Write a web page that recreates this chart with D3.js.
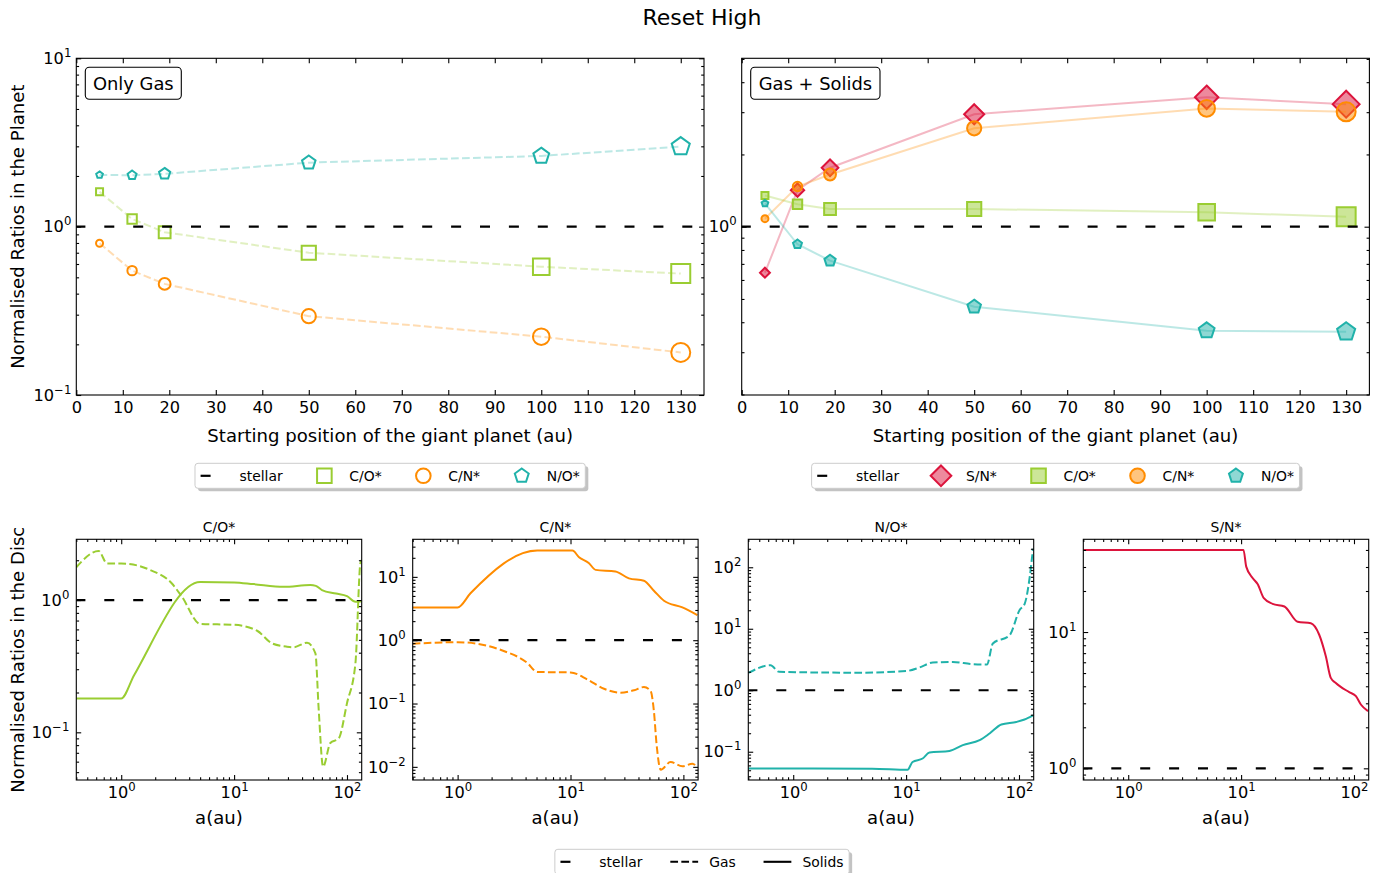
<!DOCTYPE html>
<html>
<head>
<meta charset="utf-8">
<script src="https://cdn.jsdelivr.net/npm/d3@7"></script>
<style>
  body { margin: 0; background: #fff; }
</style>
</head>
<body>
<script>
// ---- data -------------------------------------------------------------
var startPos = [5, 12, 19, 50, 100, 130];
var xTickVals = [0, 10, 20, 30, 40, 50, 60, 70, 80, 90, 100, 110, 120, 130];

// planet ratios, gas only
var gasCO = [1.61, 1.11, 0.926, 0.70, 0.578, 0.526];
var gasCN = [0.797, 0.548, 0.457, 0.294, 0.222, 0.179];
var gasNO = [2.03, 2.02, 2.06, 2.40, 2.63, 2.99];

// planet ratios, gas + solids
var allSN = [0.643, 1.42, 1.76, 2.94, 3.46, 3.24];
var allCO = [1.35, 1.24, 1.185, 1.185, 1.148, 1.10];
var allCN = [1.08, 1.47, 1.65, 2.57, 3.11, 3.01];
var allNO = [1.25, 0.845, 0.722, 0.464, 0.369, 0.365];

// disc profiles [a(au), ratio]
var discCOgas = [[0.4, 1.77], [0.63, 2.35], [0.75, 1.89], [1.0, 1.89], [1.8, 1.69], [2.8, 1.34], [3.45, 1.06],
  [5.0, 0.66], [10, 0.65], [16, 0.586], [21.7, 0.47], [29.4, 0.444], [33.7, 0.44], [44.3, 0.476], [52.5, 0.395],
  [56.2, 0.147], [61.4, 0.055], [71.2, 0.083], [84.5, 0.09], [100, 0.166], [118.7, 0.33], [131.5, 1.9], [135, 2.0]];
var discCOsolid = [[0.4, 0.18], [1.0, 0.18], [1.3, 0.27], [5.0, 1.37], [10, 1.36], [14.9, 1.32], [27.5, 1.26],
  [47.4, 1.30], [53, 1.28], [60, 1.19], [80, 1.12], [100, 1.07], [118.7, 0.97], [135, 0.98]];
var discCNgas = [[0.4, 0.88], [1.0, 0.93], [2.56, 0.676], [4.13, 0.44], [5.07, 0.315], [10, 0.31], [14.1, 0.24],
  [19.8, 0.171], [27.8, 0.148], [36.5, 0.162], [44.7, 0.182], [51.2, 0.158], [54.8, 0.076], [57.9, 0.0225],
  [63, 0.009], [76.9, 0.0119], [98, 0.0102], [120, 0.0112], [133, 0.0098]];
var discCNsolid = [[0.4, 3.29], [1.0, 3.29], [1.3, 5.5], [5.07, 26.0], [10.4, 26.0], [11.9, 20.4], [14.5, 16.6],
  [16.7, 12.9], [25, 12.2], [32.9, 9.46], [44.7, 8.7], [54.8, 6.04], [67.3, 4.2], [98, 3.29], [133, 2.49]];
var discNOgas = [[0.4, 1.91], [0.63, 2.55], [0.75, 1.99], [3.84, 1.93], [10, 2.05], [13.1, 2.34], [17.2, 2.82],
  [25.9, 2.89], [39, 2.65], [52, 2.62], [58.7, 5.74], [82.6, 7.83], [101, 20], [112.5, 25.7], [124.5, 69.5], [133, 200]];
var discNOsolid = [[0.4, 0.0533], [5, 0.053], [10.3, 0.051], [11.4, 0.068], [14.0, 0.0776], [16.1, 0.097],
  [24.2, 0.103], [31.8, 0.128], [44.8, 0.154], [54.9, 0.198], [69.8, 0.277], [94.8, 0.305], [112, 0.334], [133, 0.39]];
var discSNsolid = [[0.4, 40], [10.5, 40], [11.1, 30.2], [12.7, 24.8], [14, 22.5], [15.9, 17.7], [19, 16.1],
  [24.2, 15.4], [31.7, 11.9], [41.5, 11.6], [49.2, 9.55], [56.3, 6.63], [62.3, 4.61], [69, 4.23], [90.7, 3.62],
  [104, 3.38], [115, 2.94], [133, 2.63]];

// ---- style ------------------------------------------------------------
var FONT = "'DejaVu Sans', sans-serif";
var colCO = "#9acd32", colCN = "#ff8c00", colNO = "#20b2aa", colSN = "#dc143c";
var stellarDash = "10,18.9";
var tickFs = 16.2, labelFs = 18.1, legendFs = 13.9;

var svg = d3.select("body").append("svg")
    .attr("width", 1379).attr("height", 873)
    .attr("font-family", FONT);
svg.append("rect").attr("width", 1379).attr("height", 873).attr("fill", "#fff");

// marker shapes, size = radius
var symCircle = { draw: function (c, r) { c.moveTo(r, 0); c.arc(0, 0, r, 0, 2 * Math.PI); } };
var symSquare = { draw: function (c, r) { c.rect(-r, -r, 2 * r, 2 * r); } };
var symDiamond = { draw: function (c, r) {
    var q = r * Math.SQRT2;
    c.moveTo(0, -q); c.lineTo(q, 0); c.lineTo(0, q); c.lineTo(-q, 0); c.closePath();
} };
var symPentagon = { draw: function (c, r) {
    for (var k = 0; k < 5; k++) {
        var a = -Math.PI / 2 + k * 2 * Math.PI / 5;
        if (k) c.lineTo(r * Math.cos(a), r * Math.sin(a)); else c.moveTo(r * Math.cos(a), r * Math.sin(a));
    }
    c.closePath();
} };

function majorLog(dom) {
    var out = [];
    for (var e = Math.ceil(Math.log10(dom[0]) - 1e-9); Math.pow(10, e) <= dom[1]; e++) out.push(Math.pow(10, e));
    return out;
}
function minorLog(dom) {
    var out = [];
    for (var e = Math.floor(Math.log10(dom[0])); e <= Math.ceil(Math.log10(dom[1])); e++)
        for (var k = 2; k <= 9; k++) {
            var v = k * Math.pow(10, e);
            if (v >= dom[0] && v <= dom[1]) out.push(v);
        }
    return out;
}
function powLabels(g) {
    g.selectAll(".tick text").each(function (d) {
        var t = d3.select(this).text("");
        var e = Math.round(Math.log10(d));
        t.append("tspan").text("10");
        t.append("tspan").attr("dy", "-0.6em").attr("font-size", "0.72em").text(e < 0 ? "\u2212" + (-e) : e);
    });
}
function styleAxis(g) {
    g.attr("font-family", FONT).attr("font-size", tickFs);
    g.select(".domain").remove();
    g.selectAll(".tick line").attr("stroke-width", 1.1);
}

// ticks pointing in, on all four sides
function frame(g, x, y, w, h, o) {
    var bottom = d3.axisBottom(x).tickValues(o.xMajor).tickSizeInner(-4.9).tickSizeOuter(0).tickPadding(6);
    if (!o.xLog) bottom.tickFormat(d3.format("d"));
    var gb = g.append("g").attr("transform", "translate(0," + h + ")").call(bottom).call(styleAxis);
    if (o.xLog) powLabels(gb);
    g.append("g").call(d3.axisTop(x).tickValues(o.xMajor).tickSizeInner(-4.9).tickSizeOuter(0).tickFormat(""))
        .call(styleAxis);
    if (o.xMinor) {
        g.append("g").attr("transform", "translate(0," + h + ")")
            .call(d3.axisBottom(x).tickValues(o.xMinor).tickSizeInner(-2.8).tickSizeOuter(0).tickFormat("")).call(styleAxis);
        g.append("g").call(d3.axisTop(x).tickValues(o.xMinor).tickSizeInner(-2.8).tickSizeOuter(0).tickFormat(""))
            .call(styleAxis);
    }
    var gl = g.append("g").call(d3.axisLeft(y).tickValues(o.yMajor).tickSizeInner(-4.9).tickSizeOuter(0).tickPadding(o.yPad))
        .call(styleAxis);
    powLabels(gl);
    g.append("g").attr("transform", "translate(" + w + ",0)")
        .call(d3.axisRight(y).tickValues(o.yMajor).tickSizeInner(-4.9).tickSizeOuter(0).tickFormat("")).call(styleAxis);
    g.append("g").call(d3.axisLeft(y).tickValues(o.yMinor).tickSizeInner(-2.8).tickSizeOuter(0).tickFormat(""))
        .call(styleAxis);
    g.append("g").attr("transform", "translate(" + w + ",0)")
        .call(d3.axisRight(y).tickValues(o.yMinor).tickSizeInner(-2.8).tickSizeOuter(0).tickFormat("")).call(styleAxis);
    g.append("rect").attr("width", w).attr("height", h)
        .attr("fill", "none").attr("stroke", "#000").attr("stroke-width", 1.1);
}

function stellar(g, y, w) {
    g.append("line").attr("x1", 0).attr("x2", w).attr("y1", y(1)).attr("y2", y(1))
        .attr("stroke", "#000").attr("stroke-width", 2.2)
        .attr("stroke-dasharray", stellarDash).attr("stroke-dashoffset", 0.9);
}

function legend(cx, top, items) {
    var pad = 5.6, hl = 27.8, htp = 11.1, cs = 27.8, h = 25;
    var g = svg.append("g");
    var shadow = g.append("rect"), box = g.append("rect");
    var x = pad;
    items.forEach(function (it) {
        var cy = h / 2;
        if (it.sym) {
            g.append("path").attr("transform", "translate(" + (x + hl / 2) + "," + cy + ")")
                .attr("d", d3.symbol().type(it.sym).size(7.3)())
                .attr("fill", it.filled ? it.color : "none").attr("fill-opacity", it.filled ? 0.5 : null)
                .attr("stroke", it.color).attr("stroke-width", 2);
        } else {
            g.append("line").attr("x1", x).attr("x2", x + hl).attr("y1", cy).attr("y2", cy)
                .attr("stroke", "#000").attr("stroke-width", it.width || 2.1)
                .attr("stroke-dasharray", it.dash || null);
        }
        var t = g.append("text").attr("x", x + hl + htp).attr("y", cy + 5).attr("font-size", legendFs).text(it.label);
        x += hl + htp + t.node().getComputedTextLength() + cs;
    });
    var w = x - cs + pad;
    g.attr("transform", "translate(" + (cx - w / 2) + "," + top + ")");
    shadow.attr("x", 3).attr("y", 3).attr("width", w).attr("height", h).attr("rx", 3)
        .attr("fill", "#888").attr("opacity", 0.5);
    box.attr("width", w).attr("height", h).attr("rx", 3).attr("fill", "#fff").attr("stroke", "#ccc");
}

// ---- title ------------------------------------------------------------
svg.append("text").attr("x", 702).attr("y", 25).attr("text-anchor", "middle")
    .attr("font-size", 22).text("Reset High");

// ---- top panels -------------------------------------------------------
var topW = 627.7, topH = 336.7;
var xTop = d3.scaleLinear().domain([0, 135]).range([0, topW]);
var msScale = d3.scaleLinear().domain([0, startPos.length - 1]).range([7, 19]);
var yGas = d3.scaleLog().domain([0.1, 10]).range([topH, 0]);
var yAll = d3.scaleLog().domain([0.199, 5.03]).range([topH, 0]);

function series(g, y, vals, color, sym, filled) {
    var line = d3.line().x(function (d, i) { return xTop(startPos[i]); }).y(function (d) { return y(d); });
    g.append("path").attr("d", line(vals)).attr("fill", "none")
        .attr("stroke", color).attr("stroke-opacity", 0.3).attr("stroke-width", 2)
        .attr("stroke-dasharray", filled ? null : "7.7,3.3");
    g.selectAll(null).data(vals).join("path")
        .attr("transform", function (d, i) { return "translate(" + xTop(startPos[i]) + "," + y(d) + ")"; })
        .attr("d", function (d, i) { return d3.symbol().type(sym).size(msScale(i) / 2)(); })
        .attr("fill", filled ? color : "none").attr("fill-opacity", filled ? 0.5 : null)
        .attr("stroke", color).attr("stroke-width", 2);
}

var gL = svg.append("g").attr("transform", "translate(76.3,58.3)");
series(gL, yGas, gasCO, colCO, symSquare, false);
series(gL, yGas, gasCN, colCN, symCircle, false);
series(gL, yGas, gasNO, colNO, symPentagon, false);
stellar(gL, yGas, topW);
frame(gL, xTop, yGas, topW, topH, { xMajor: xTickVals, yMajor: majorLog([0.1, 10]), yMinor: minorLog([0.1, 10]), yPad: 5 });

var gR = svg.append("g").attr("transform", "translate(741.7,58.3)");
series(gR, yAll, allSN, colSN, symDiamond, true);
series(gR, yAll, allCO, colCO, symSquare, true);
series(gR, yAll, allCN, colCN, symCircle, true);
series(gR, yAll, allNO, colNO, symPentagon, true);
stellar(gR, yAll, topW);
frame(gR, xTop, yAll, topW, topH, { xMajor: xTickVals, yMajor: majorLog(yAll.domain()), yMinor: minorLog(yAll.domain()), yPad: 5 });

[["Only Gas", 85.3, 96], ["Gas + Solids", 750.7, 129.3]].forEach(function (b) {
    svg.append("rect").attr("x", b[1]).attr("y", 67.3).attr("width", b[2]).attr("height", 32).attr("rx", 4)
        .attr("fill", "#fff").attr("stroke", "#000").attr("stroke-width", 1.1);
    svg.append("text").attr("x", b[1] + b[2] / 2).attr("y", 89.8).attr("text-anchor", "middle")
        .attr("font-size", 17.9).text(b[0]);
});

[76.3 + topW / 2, 741.7 + topW / 2].forEach(function (cx) {
    svg.append("text").attr("x", cx).attr("y", 442).attr("text-anchor", "middle")
        .attr("font-size", labelFs).text("Starting position of the giant planet (au)");
});
svg.append("text").attr("transform", "translate(24,226.7) rotate(-90)").attr("text-anchor", "middle")
    .attr("font-size", labelFs).text("Normalised Ratios in the Planet");

legend(76.3 + topW / 2, 463.3, [
    { label: "stellar", dash: stellarDash, width: 2.2 },
    { label: "C/O*", sym: symSquare, color: colCO },
    { label: "C/N*", sym: symCircle, color: colCN },
    { label: "N/O*", sym: symPentagon, color: colNO }
]);
legend(741.7 + topW / 2, 463.3, [
    { label: "stellar", dash: stellarDash, width: 2.2 },
    { label: "S/N*", sym: symDiamond, color: colSN, filled: true },
    { label: "C/O*", sym: symSquare, color: colCO, filled: true },
    { label: "C/N*", sym: symCircle, color: colCN, filled: true },
    { label: "N/O*", sym: symPentagon, color: colNO, filled: true }
]);

// ---- disc panels ------------------------------------------------------
var botW = 285.4, botH = 240.7, botTop = 539.3;
var xDisc = d3.scaleLog().domain([0.4, 135]).range([0, botW]);
var discPanels = [
    { title: "C/O*", color: colCO, gas: discCOgas, solid: discCOsolid, yDom: [0.0436, 2.88], left: 76.3 },
    { title: "C/N*", color: colCN, gas: discCNgas, solid: discCNsolid, yDom: [0.0062, 39.2], left: 412.7 },
    { title: "N/O*", color: colNO, gas: discNOgas, solid: discNOsolid, yDom: [0.0347, 285], left: 748.3 },
    { title: "S/N*", color: colSN, gas: null, solid: discSNsolid, yDom: [0.821, 47.9], left: 1083.3 }
];

discPanels.forEach(function (p, k) {
    var g = svg.append("g").attr("transform", "translate(" + p.left + "," + botTop + ")");
    var y = d3.scaleLog().domain(p.yDom).range([botH, 0]);
    var line = d3.line().x(function (d) { return xDisc(d[0]); }).y(function (d) { return y(d[1]); })
        .curve(d3.curveMonotoneX);
    g.append("clipPath").attr("id", "clip" + k).append("rect").attr("width", botW).attr("height", botH);
    var body = g.append("g").attr("clip-path", "url(#clip" + k + ")");
    stellar(body, y, botW);
    if (p.gas) body.append("path").attr("d", line(p.gas)).attr("fill", "none")
        .attr("stroke", p.color).attr("stroke-width", 2).attr("stroke-dasharray", "7.7,3.3");
    body.append("path").attr("d", line(p.solid)).attr("fill", "none")
        .attr("stroke", p.color).attr("stroke-width", 2);
    frame(g, xDisc, y, botW, botH, {
        xMajor: majorLog(xDisc.domain()), xMinor: minorLog(xDisc.domain()), xLog: true,
        yMajor: majorLog(p.yDom), yMinor: minorLog(p.yDom), yPad: 7
    });
    g.append("text").attr("x", botW / 2).attr("y", -7.3).attr("text-anchor", "middle")
        .attr("font-size", legendFs).text(p.title);
    g.append("text").attr("x", botW / 2).attr("y", 285).attr("text-anchor", "middle")
        .attr("font-size", labelFs).text("a(au)");
});
svg.append("text").attr("transform", "translate(24,659.7) rotate(-90)").attr("text-anchor", "middle")
    .attr("font-size", labelFs).text("Normalised Ratios in the Disc");

legend(702, 849.3, [
    { label: "stellar", dash: stellarDash, width: 2.2 },
    { label: "Gas", dash: "7.7,3.3", width: 2.1 },
    { label: "Solids", width: 2.1 }
]);
</script>
</body>
</html>
